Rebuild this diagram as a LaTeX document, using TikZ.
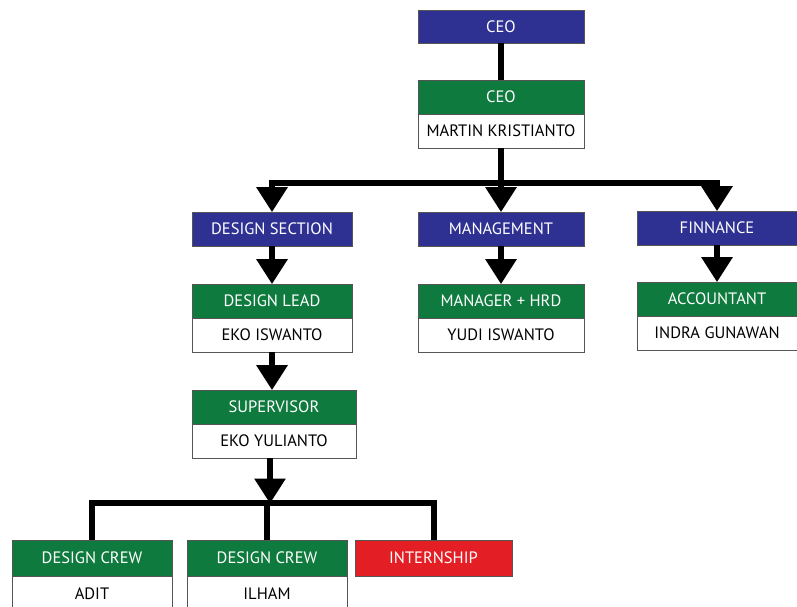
\documentclass[tikz,border=0pt]{standalone}
\usepackage{fontspec}
\setmainfont{PT Sans}
\usetikzlibrary{arrows.meta}
\definecolor{hblue}{HTML}{2E3192}
\definecolor{hgreen}{HTML}{0E7A3D}
\definecolor{hred}{HTML}{E31E24}
\definecolor{hline}{HTML}{555555}
\begin{document}
\begin{tikzpicture}[x=1pt,y=-1pt,
  box/.style={draw=hline, line width=0.7pt, minimum width=160pt, minimum height=34pt, inner sep=0pt, font=\fontsize{16.5}{18}\selectfont},
  bluebox/.style={box, fill=hblue, text=white},
  greenbox/.style={box, fill=hgreen, text=white},
  redbox/.style={box, fill=hred, text=white},
  namebox/.style={box, fill=white, text=black},
  conn/.style={line width=6pt, black},
  arr/.style={conn, -{Triangle[width=30pt,length=25pt]}, shorten >=-0.5pt}
]
\useasboundingbox (0,0) rectangle (797,606);
\clip (0,0) rectangle (797,606);
% top
\node[bluebox, minimum width=166pt, minimum height=33pt] (ceo) at (501,26.5) {CEO};
\node[greenbox, minimum width=166pt] (ceot) at (501,97) {CEO};
\node[namebox, minimum width=166pt] (ceon) at (501,131) {MARTIN KRISTIANTO};
% second level
\node[bluebox] (ds) at (272,229) {DESIGN SECTION};
\node[bluebox, minimum width=166pt] (mg) at (501,229) {MANAGEMENT};
\node[bluebox] (fin) at (717,228) {FINNANCE};
\node[greenbox] (dl) at (272,301) {DESIGN LEAD};
\node[namebox] (dln) at (272,335) {EKO ISWANTO};
\node[greenbox, minimum width=166pt] (mh) at (501,301) {MANAGER + HRD};
\node[namebox, minimum width=166pt] (mhn) at (501,335) {YUDI ISWANTO};
\node[greenbox] (acc) at (717,299) {ACCOUNTANT};
\node[namebox] (accn) at (717,333) {INDRA GUNAWAN};
% supervisor
\node[greenbox, minimum width=164pt] (sup) at (274,407) {SUPERVISOR};
\node[namebox, minimum width=164pt] (supn) at (274,441) {EKO YULIANTO};
% bottom
\node[greenbox, minimum height=36pt] (c1) at (92,558) {DESIGN CREW};
\node[namebox, minimum height=36pt] (c1n) at (92,594) {ADIT};
\node[greenbox, minimum height=36pt] (c2) at (267,558) {DESIGN CREW};
\node[namebox, minimum height=36pt] (c2n) at (267,594) {ILHAM};
\node[redbox, minimum width=157pt, minimum height=36pt] (int) at (433.5,558) {INTERNSHIP};
% connectors
\coordinate (j1) at (501,183);
\coordinate (j2) at (270,503);
\draw[conn] (ceo.south) -- (ceot.north);
\draw[conn] (ceon.south) -- (j1);
\draw[conn, line cap=rect] (j1 -| ds.north) -- (j1 -| fin.north);
\draw[arr] (j1 -| ds.north) -- (ds.north);
\draw[arr] (j1) -- (mg.north);
\draw[arr] (j1 -| fin.north) -- (fin.north);
\draw[arr] (ds.south) -- (dl.north);
\draw[arr] (mg.south) -- (mh.north);
\draw[arr] (fin.south) -- (acc.north);
\draw[arr] (dln.south) -- (dln.south |- sup.north);
\draw[arr] (supn.south -| j2) -- (j2);
\draw[conn, line cap=rect] (j2 -| c1.north) -- (j2 -| int.north);
\draw[conn] (j2 -| c1.north) -- (c1.north);
\draw[conn] (j2 -| c2.north) -- (c2.north);
\draw[conn] (j2 -| int.north) -- (int.north);
\end{tikzpicture}
\end{document}
